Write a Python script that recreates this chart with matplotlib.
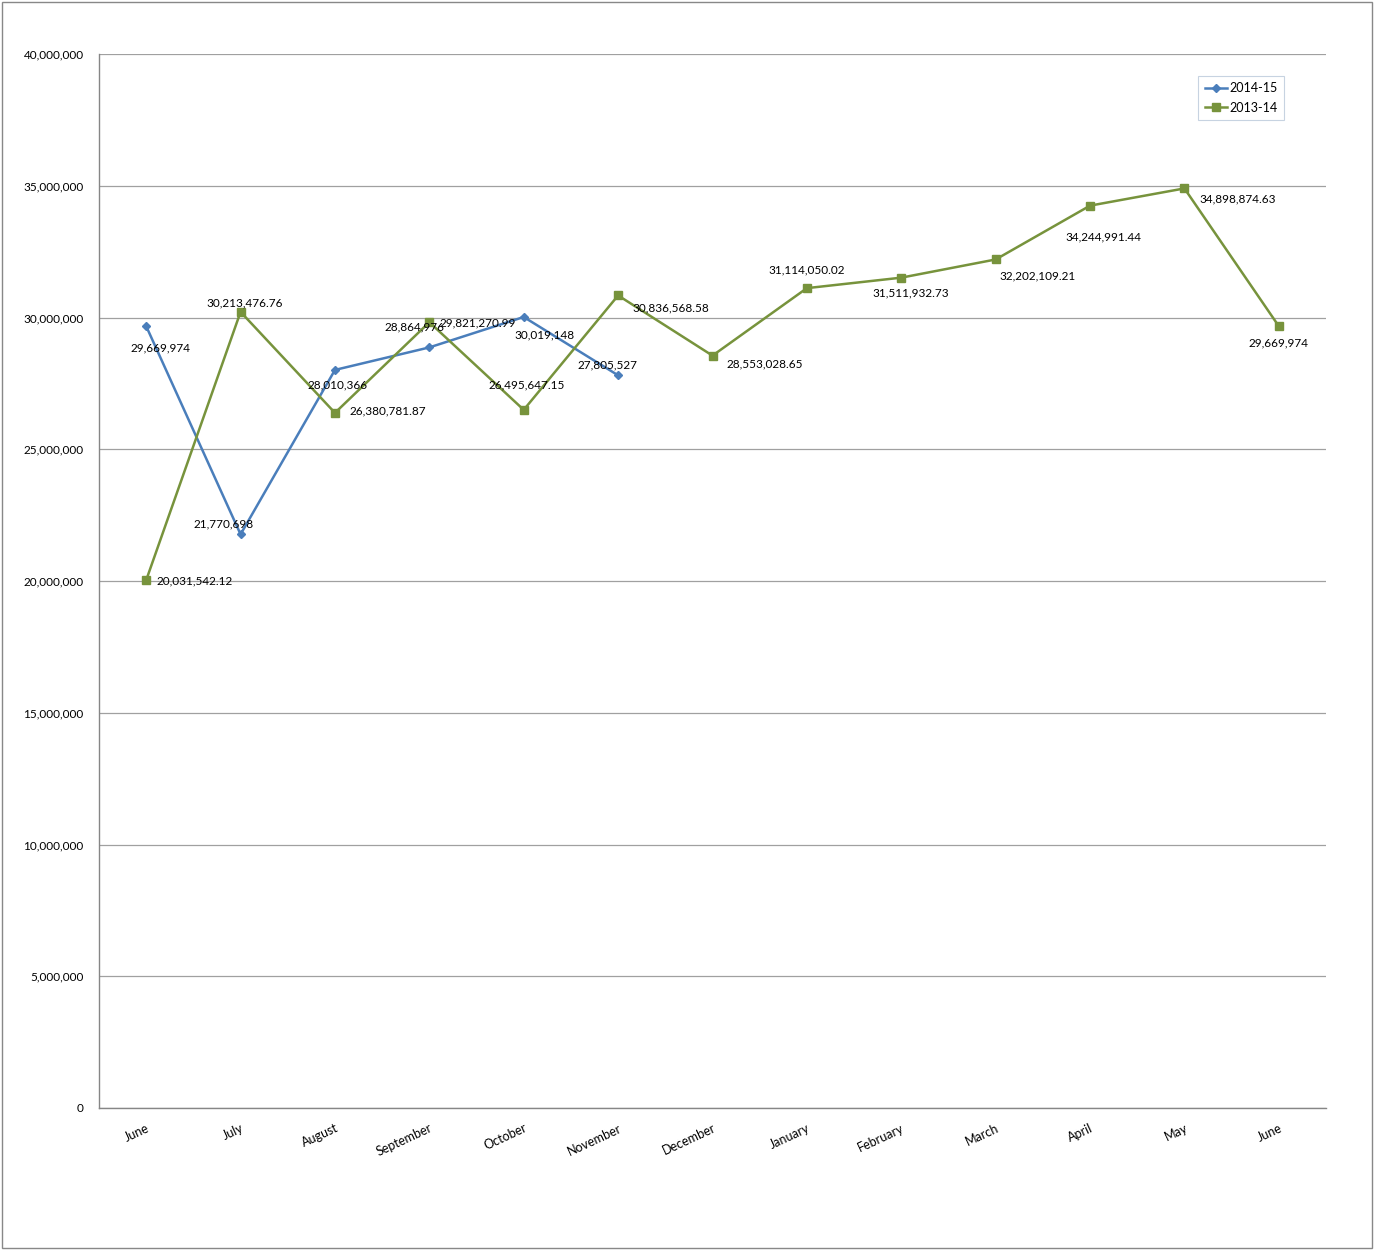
import matplotlib.pyplot as plt
from matplotlib.patches import Rectangle
from matplotlib.ticker import FuncFormatter, MultipleLocator

plt.rcParams['font.family'] = ['Lato', 'DejaVu Sans']

# Data
months = ['June', 'July', 'August', 'September', 'October', 'November', 'December',
          'January', 'February', 'March', 'April', 'May', 'June']
sales_1415 = [29669974, 21770698, 28010366, 28864976, 30019148, 27805527]
sales_1314 = [20031542.12, 30213476.76, 26380781.87, 29821270.99, 26495647.15,
              30836568.58, 28553028.65, 31114050.02, 31511932.73, 32202109.21,
              34244991.44, 34898874.63, 29669974]
labels_1415 = ['29,669,974', '21,770,698', '28,010,366', '28,864,976', '30,019,148', '27,805,527']
labels_1314 = ['20,031,542.12', '30,213,476.76', '26,380,781.87', '29,821,270.99',
               '26,495,647.15', '30,836,568.58', '28,553,028.65', '31,114,050.02',
               '31,511,932.73', '32,202,109.21', '34,244,991.44', '34,898,874.63', '29,669,974']

# label placement (pixel offsets, alignment)
pos_1415 = [(14, -22, 'center'), (-17, 10, 'center'), (3, -15, 'center'),
            (-15, 20, 'center'), (21, -18, 'center'), (-11, 10, 'center')]
pos_1314 = [(10, -1, 'left'), (4, 9, 'center'), (15, 2, 'left'), (10, -1, 'left'),
            (3, 25, 'center'), (14, -12, 'left'), (14, -8, 'left'), (0, 18, 'center'),
            (9, -15, 'center'), (42, -16, 'center'), (13, -31, 'center'), (15, -11, 'left'),
            (0, -17, 'center')]

blue = '#4A7EBB'
green = '#77933C'

fig = plt.figure(figsize=(13.75, 12.5), dpi=100)
ax = fig.add_axes([99 / 1375, 1 - 1108 / 1250, 1227 / 1375, 1054 / 1250])

x = list(range(len(months)))
ax.plot(x[:len(sales_1415)], sales_1415, color=blue, lw=1.8, marker='D', ms=4.5,
        label='2014-15', zorder=3)
ax.plot(x, sales_1314, color=green, lw=1.8, marker='s', ms=5.5,
        label='2013-14', zorder=3)

for i, v in enumerate(sales_1415):
    dx, dy, ha = pos_1415[i]
    ax.annotate(labels_1415[i], (i, v), xytext=(dx, dy), textcoords='offset pixels',
                ha=ha, va='center', fontsize=8.5, zorder=4)
for i, v in enumerate(sales_1314):
    dx, dy, ha = pos_1314[i]
    ax.annotate(labels_1314[i], (i, v), xytext=(dx, dy), textcoords='offset pixels',
                ha=ha, va='center', fontsize=8.5, zorder=4)

ax.set_xlim(-0.5, len(months) - 0.5)
ax.set_ylim(0, 40000000)
ax.yaxis.set_major_locator(MultipleLocator(5000000))
ax.yaxis.set_major_formatter(FuncFormatter(lambda v, p: f'{int(v):,}'))
ax.grid(axis='y', color='#A0A0A0', lw=0.9)
ax.set_axisbelow(True)

ax.set_xticks(x)
ax.set_xticklabels(months, rotation=25, ha='right', va='top', rotation_mode='anchor',
                   fontsize=9)
ax.tick_params(axis='x', length=0, pad=10)
ax.tick_params(axis='y', length=0, pad=11, labelsize=8.5)

for s in ['top', 'right']:
    ax.spines[s].set_visible(False)
for s in ['left', 'bottom']:
    ax.spines[s].set_color('#868686')
    ax.spines[s].set_linewidth(1.0)

leg = ax.legend(loc='upper right', bbox_to_anchor=(1185 / 1227, (1108 - 76) / 1054),
                borderaxespad=0, fontsize=9, frameon=True, fancybox=False,
                handlelength=1.8, borderpad=0.5, labelspacing=0.6, handletextpad=0.2)
leg.get_frame().set_edgecolor('#B9C8DA')
leg.get_frame().set_linewidth(0.8)

# outer chart border
fig.patches.append(Rectangle((2 / 1375, 2 / 1250), 1370 / 1375, 1246 / 1250,
                             transform=fig.transFigure, fill=False,
                             edgecolor='#888888', lw=1.0))

fig.savefig('out.png', dpi=100)
